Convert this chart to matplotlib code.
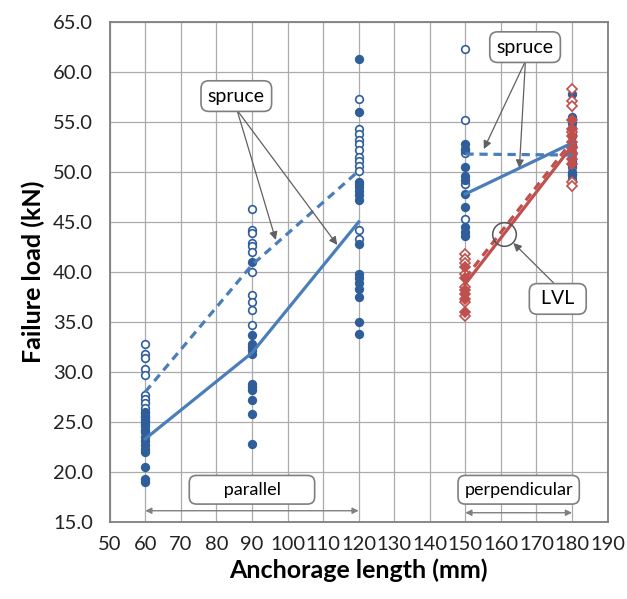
import matplotlib
matplotlib.use("Agg")
import matplotlib.pyplot as plt

plt.rcParams['font.family'] = ['Lato', 'DejaVu Sans']

# ---------------- data ----------------
x_par = [60, 90, 120]
x_perp = [150, 180]

# spruce, parallel: open circles (dashed mean) and filled circles (solid mean)
sp_par_open = {
    60: [32.8, 31.8, 31.4, 30.3, 29.7, 27.7, 27.3, 26.9, 26.4, 26.0, 25.6, 25.2, 24.8, 24.2],
    90: [46.3, 44.2, 43.9, 42.9, 42.6, 42.0, 40.0, 37.7, 37.0, 36.2, 34.7],
    120: [57.3, 54.3, 53.8, 53.2, 52.8, 52.2, 51.5, 51.1, 50.6, 50.1, 48.8, 44.2, 43.3],
}
sp_par_filled = {
    60: [25.9, 25.5, 25.0, 24.6, 24.0, 23.5, 23.1, 22.7, 22.3, 22.0, 20.5, 19.3, 19.0],
    90: [41.0, 33.7, 32.8, 32.5, 32.2, 31.8, 28.8, 28.5, 28.2, 27.2, 25.8, 22.8],
    120: [61.3, 56.0, 49.0, 48.5, 48.1, 47.7, 47.2, 42.8, 39.8, 39.4, 38.9, 38.3, 37.5, 35.0, 33.8],
}
# spruce, perpendicular
sp_perp_open = {
    150: [62.3, 55.2, 52.3, 51.9, 48.8, 45.3],
    180: [54.4, 53.8, 52.6, 51.8, 51.0, 50.5, 49.8, 49.3],
}
sp_perp_filled = {
    150: [52.8, 52.2, 50.5, 49.6, 49.2, 47.8, 46.5, 44.5, 44.0, 43.6],
    180: [57.8, 55.5, 54.9, 53.6, 52.7, 52.0, 51.3, 50.8, 50.0, 49.7],
}
# LVL, perpendicular (diamonds)
lvl_open = {
    150: [41.8, 41.3, 40.9, 39.8, 38.5, 37.0, 35.6],
    180: [58.3, 57.1, 56.6, 54.0, 52.5, 51.8, 49.0, 48.6],
}
lvl_filled = {
    150: [40.5, 39.4, 38.2, 37.8, 37.3, 36.0],
    180: [55.2, 54.3, 53.6, 53.0, 52.4, 51.9, 51.3, 50.8],
}

# mean lines
sp_par_open_mean = [28.0, 40.7, 50.1]
sp_par_filled_mean = [23.3, 31.9, 45.0]
sp_perp_open_mean = [51.8, 51.7]
sp_perp_filled_mean = [47.8, 52.9]
lvl_open_mean = [39.4, 53.1]
lvl_filled_mean = [38.8, 52.6]

x_ticks = list(range(50, 191, 10))
y_ticks = [15 + 5 * i for i in range(11)]

BLUE_M = '#2F5E9A'
BLUE_L = '#4A7EBB'
RED = '#C0504D'
GRAY = '#7F7F7F'

fig = plt.figure(figsize=(6.27, 5.99), dpi=100)
ax = fig.add_axes([0.175, 0.129, 0.794, 0.834])

def pts(ax, d, marker, color, filled, z):
    for x, vals in d.items():
        ax.plot([x] * len(vals), vals, linestyle='none', marker=marker,
                ms=5.5 if marker == 'o' else 4.8,
                mfc=color if filled else 'white', mec=color, mew=1.2, zorder=z)

pts(ax, sp_par_open, 'o', BLUE_M, False, 3)
pts(ax, sp_par_filled, 'o', BLUE_M, True, 3)
pts(ax, sp_perp_open, 'o', BLUE_M, False, 3)
pts(ax, sp_perp_filled, 'o', BLUE_M, True, 3)
pts(ax, lvl_open, 'D', RED, False, 4)
pts(ax, lvl_filled, 'D', RED, True, 4)

dash = (0, (2.6, 1.8))
ax.plot(x_par, sp_par_open_mean, color=BLUE_L, lw=2.3, linestyle=dash, zorder=5)
ax.plot(x_par, sp_par_filled_mean, color=BLUE_L, lw=2.3, zorder=5)
ax.plot(x_perp, sp_perp_open_mean, color=BLUE_L, lw=2.3, linestyle=dash, zorder=5)
ax.plot(x_perp, sp_perp_filled_mean, color=BLUE_L, lw=2.3, zorder=5)
ax.plot(x_perp, lvl_open_mean, color=RED, lw=2.3, linestyle=dash, zorder=6)
ax.plot(x_perp, lvl_filled_mean, color=RED, lw=2.3, zorder=6)

ax.set_xlim(50, 190)
ax.set_ylim(15, 65)
ax.set_xticks(x_ticks)
ax.set_yticks(y_ticks)
ax.set_yticklabels([f'{v:.1f}' for v in y_ticks])
ax.tick_params(axis='both', length=0, labelsize=14.5, colors='#222222')
ax.tick_params(axis='y', pad=12)
ax.tick_params(axis='x', pad=10)
ax.grid(True, color='#ABABAB', lw=0.9)
ax.set_axisbelow(True)
for s in ax.spines.values():
    s.set_color(GRAY)
    s.set_linewidth(1.3)

ax.set_xlabel('Anchorage length (mm)', fontsize=18, fontweight='bold', labelpad=4)
ax.set_ylabel('Failure load (kN)', fontsize=18, fontweight='bold', labelpad=6)

box = dict(boxstyle='round,pad=0.35,rounding_size=0.4', fc='white', ec=GRAY, lw=1.2)
arr = dict(arrowstyle='-|>', color='#606060', lw=0.9, mutation_scale=12,
           shrinkA=0, shrinkB=0)

# spruce label (parallel)
ax.text(85.6, 57.6, 'spruce', fontsize=14, ha='center', va='center', bbox=box, zorder=10)
ax.annotate('', xy=(96.7, 43.2), xytext=(85.8, 56.2), arrowprops=arr, zorder=9)
ax.annotate('', xy=(114.0, 42.7), xytext=(85.8, 56.2), arrowprops=arr, zorder=9)

# spruce label (perpendicular)
ax.text(166.8, 62.5, 'spruce', fontsize=14, ha='center', va='center', bbox=box, zorder=10)
ax.annotate('', xy=(155.2, 52.3), xytext=(166.9, 61.1), arrowprops=arr, zorder=9)
ax.annotate('', xy=(165.2, 50.4), xytext=(166.9, 61.1), arrowprops=arr, zorder=9)

# LVL label with circle
ax.plot([160.8], [43.8], marker='o', ms=17, mfc='none', mec='#555555', mew=1.1, zorder=9)
ax.text(176.0, 37.3, ' LVL ', fontsize=14, ha='center', va='center', bbox=box, zorder=10)
ax.annotate('', xy=(163.5, 42.9), xytext=(175.4, 38.7), arrowprops=arr, zorder=9)

# range labels
ax.text(90.0, 18.2, '      parallel      ', fontsize=13, ha='center', va='center', bbox=box, zorder=10)
ax.text(165.0, 18.2, 'perpendicular', fontsize=13, ha='center', va='center', bbox=box, zorder=10)
darr = dict(arrowstyle='<|-|>', color='#808080', lw=1.0, mutation_scale=9,
            shrinkA=0, shrinkB=0)
ax.annotate('', xy=(120, 16.1), xytext=(60, 16.1), arrowprops=darr, zorder=9)
ax.annotate('', xy=(180, 15.9), xytext=(150, 15.9), arrowprops=darr, zorder=9)

fig.savefig('out.png', dpi=100)
